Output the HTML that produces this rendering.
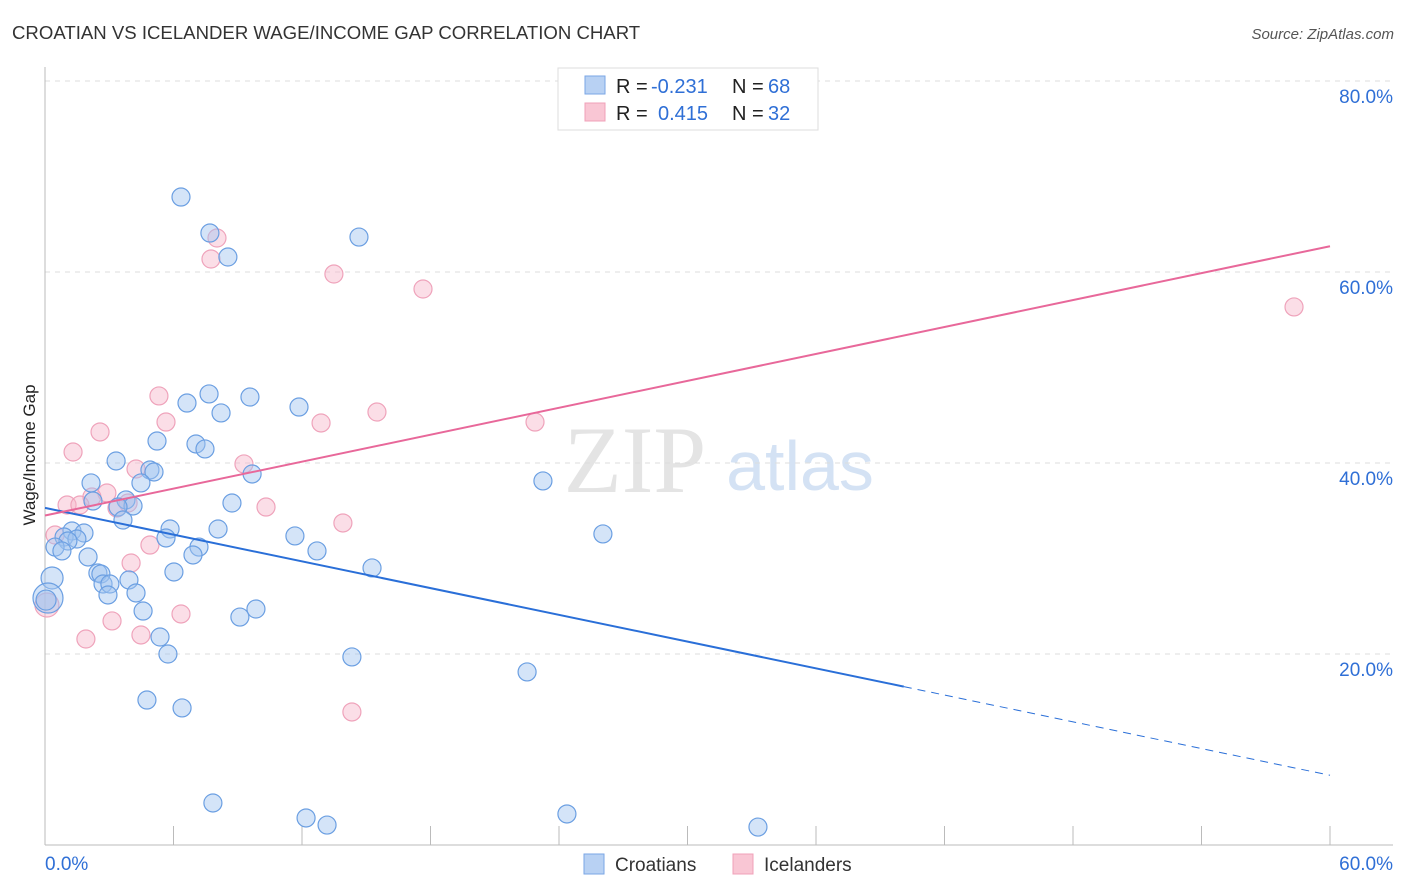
<!DOCTYPE html>
<html><head><meta charset="utf-8"><style>
body{margin:0;background:#fff;font-family:"Liberation Sans",sans-serif;}
svg{display:block}
</style></head><body>
<svg id="chart" width="1406" height="892" xmlns="http://www.w3.org/2000/svg">
<text x="12" y="39" font-size="18.6" fill="#333">CROATIAN VS ICELANDER WAGE/INCOME GAP CORRELATION CHART</text>
<text x="1394" y="39" font-size="15" fill="#555" font-style="italic" text-anchor="end">Source: ZipAtlas.com</text>
<text x="635" y="492" font-size="95" fill="#e4e4e4" font-family="Liberation Serif,serif" text-anchor="middle">ZIP</text>
<text x="800" y="490" font-size="70" fill="#d4e2f4" text-anchor="middle">atlas</text>
<g id="grid"></g>
<g id="axes"></g>
<g id="pts"></g>
<g id="trends"></g>
<text x="35" y="455" font-size="17" fill="#222" text-anchor="middle" transform="rotate(-90 35 455)">Wage/Income Gap</text>
<g>
<rect x="558" y="68" width="260" height="62" fill="#fff" stroke="#ddd"/>
<rect x="585" y="76" width="20" height="18" fill="#b8d1f3" stroke="#7aa6e6"/>
<rect x="585" y="103" width="20" height="18" fill="#f9c6d4" stroke="#f0a0b8"/>
<text x="616" y="93" font-size="20" fill="#222">R =</text>
<text x="651" y="93" font-size="20" fill="#2f6fd6">-0.231</text>
<text x="732" y="93" font-size="20" fill="#222">N =</text>
<text x="768" y="93" font-size="20" fill="#2f6fd6">68</text>
<text x="616" y="120" font-size="20" fill="#222">R =</text>
<text x="658" y="120" font-size="20" fill="#2f6fd6">0.415</text>
<text x="732" y="120" font-size="20" fill="#222">N =</text>
<text x="768" y="120" font-size="20" fill="#2f6fd6">32</text>
</g>
<g>
<rect x="584" y="854" width="20" height="20" fill="#b8d1f3" stroke="#7aa6e6"/>
<text x="615" y="871" font-size="19" fill="#333">Croatians</text>
<rect x="733" y="854" width="20" height="20" fill="#f9c6d4" stroke="#f0a0b8"/>
<text x="764" y="871" font-size="19" fill="#333">Icelanders</text>
</g>
</svg>
<script>
const xTicks=[0,60];
const yTicks=[20,40,60,80];
const blueX=[6.35,7.70,8.54,14.66,6.63,7.66,8.22,9.57,11.86,5.23,7.05,7.47,3.32,4.90,5.09,9.67,2.15,4.48,2.24,3.78,4.11,3.41,8.73,3.64,1.26,1.82,0.89,1.49,1.07,5.84,8.08,0.47,0.79,11.67,5.65,7.19,6.91,12.70,2.01,15.27,6.02,2.47,2.61,2.71,3.03,3.92,0.33,2.94,4.25,4.58,9.85,9.10,5.37,5.74,14.33,22.51,4.76,6.40,7.84,12.19,13.17,24.37,33.29,23.25,26.05,0.14,0.05];
const blueY=[67.85,64.08,61.57,63.66,46.28,47.23,45.24,46.91,45.86,42.30,41.99,41.47,40.21,39.27,39.06,38.85,37.91,37.91,36.02,36.13,35.50,35.39,35.81,34.03,32.88,32.67,32.25,32.04,31.83,33.09,33.09,31.20,30.79,32.36,32.15,31.20,30.37,30.79,30.16,29.01,28.59,28.48,28.38,27.33,27.33,27.75,27.96,26.18,26.39,24.50,24.71,23.87,21.78,20.00,19.69,18.12,15.18,14.35,4.40,2.83,2.09,3.25,1.88,38.12,32.57,25.86,25.65];
const blueR=[9,9,9,9,9,9,9,9,9,9,9,9,9,9,9,9,9,9,9,9,9,9,9,9,9,9,9,9,9,9,9,9,9,9,9,9,9,9,9,9,9,9,9,9,9,9,11,9,9,9,9,9,9,9,9,9,9,9,9,9,9,9,9,9,9,15,10];
const pinkX=[8.03,7.75,13.49,17.65,58.32,5.32,5.65,15.50,12.89,22.88,2.57,1.31,9.29,4.25,2.89,2.19,1.03,1.63,3.36,3.88,10.32,13.91,0.47,4.90,4.02,3.13,4.48,1.91,6.35,14.33,0.09];
const pinkY=[63.56,61.36,59.79,58.22,56.34,47.02,44.29,45.34,44.19,44.29,43.25,41.15,39.90,39.37,36.86,36.44,35.60,35.60,35.29,35.81,35.39,33.72,32.46,31.41,29.53,23.46,21.99,21.57,24.19,13.93,25.13];
const blueTrend=[35.3,7.3], blueSolidEnd=40.1;
const pinkTrend=[34.5,62.7];
const X=v=>45+v*1285/60, Y=v=>845-v*191/20;
const NS="http://www.w3.org/2000/svg";
function mk(p,t,a){const e=document.createElementNS(NS,t);for(const k in a)e.setAttribute(k,a[k]);document.getElementById(p).appendChild(e);return e;}
yTicks.forEach(t=>{
 const g=mk('grid','line',{x1:45,x2:1393,y1:Y(t),y2:Y(t),stroke:'#ddd','stroke-dasharray':'5,5'});
 
 
 const l=mk('axes','text',{x:1393,y:Y(t)+22,'font-size':19,fill:'#2f6fd6','text-anchor':'end'});
 l.textContent=t.toFixed(1)+'%';
 
 
});
mk('axes','line',{x1:45,x2:45,y1:67,y2:845,stroke:'#bbb'});
mk('axes','line',{x1:45,x2:1393,y1:845,y2:845,stroke:'#bbb'});
for(let i=1;i<=10;i++){const xx=X(i*6);const tk=mk('axes','line',{x1:xx,x2:xx,y1:826,y2:845,stroke:'#bbb'});
 
 }
xTicks.forEach((t,i)=>{const l=mk('axes','text',{x:i?1393:45,y:870,'font-size':19,fill:'#2f6fd6','text-anchor':i?'end':'start'});
 l.textContent=t.toFixed(1)+'%';
 
 });
pinkX.forEach((x,i)=>{const c=mk('pts','circle',{cx:X(x),cy:Y(pinkY[i]),r:i==pinkX.length-1?12:9,fill:'rgba(246,182,202,0.45)',stroke:'#efa3bb','stroke-width':1.2});
 
 });
blueX.forEach((x,i)=>{const c=mk('pts','circle',{cx:X(x),cy:Y(blueY[i]),r:blueR[i],fill:'rgba(160,196,240,0.45)',stroke:'#6b9fe2','stroke-width':1.2});
 
 });
const by=x=>blueTrend[0]+(blueTrend[1]-blueTrend[0])*x/60;
const b1=mk('trends','line',{x1:X(0),y1:Y(by(0)),x2:X(blueSolidEnd),y2:Y(by(blueSolidEnd)),stroke:'#2a6fd8','stroke-width':2});


const b2=mk('trends','line',{x1:X(blueSolidEnd),y1:Y(by(blueSolidEnd)),x2:X(60),y2:Y(by(60)),stroke:'#2a6fd8','stroke-width':1,'stroke-dasharray':'8,6'});


const p1=mk('trends','line',{x1:X(0),y1:Y(pinkTrend[0]),x2:X(60),y2:Y(pinkTrend[1]),stroke:'#e8689a','stroke-width':2});


</script>
</body></html>
